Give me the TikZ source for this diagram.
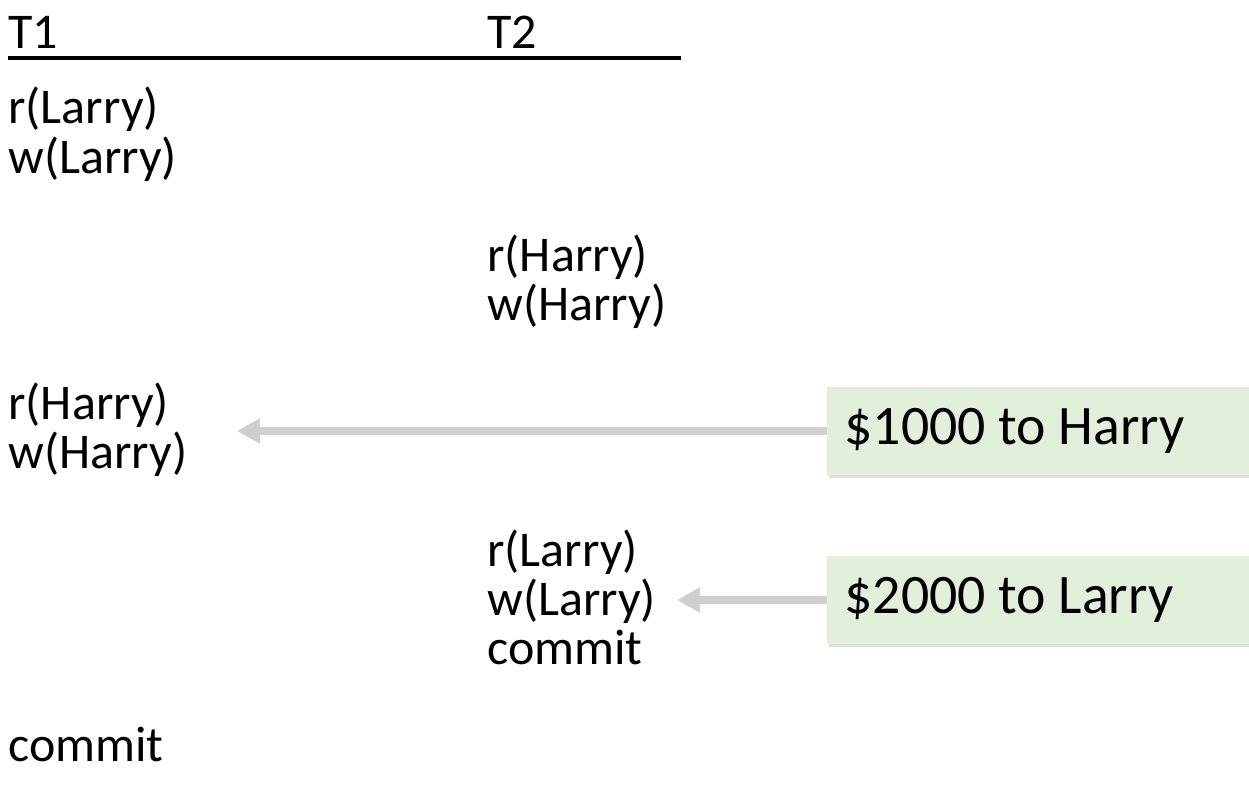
\documentclass[tikz,border=0pt]{standalone}
\usepackage{fontspec}
\setmainfont{Carlito}
\usetikzlibrary{arrows.meta}
\usetikzlibrary{shadows}
\definecolor{notegreen}{RGB}{226,239,218}
\definecolor{arrowgray}{RGB}{208,206,206}

\begin{document}
\begin{tikzpicture}[x=0.52pt,y=-0.52pt,
    op/.style={anchor=base west,inner sep=0pt,font=\fontsize{26}{31}\selectfont},
    note/.style={anchor=west,fill=notegreen,inner xsep=9pt,inner ysep=0pt,
      minimum height=45.8pt,font=\fontsize{29}{35}\selectfont,
      drop shadow={opacity=0.25,shadow xshift=0.6pt,shadow yshift=-1.4pt}},
    flow/.style={arrowgray,line width=4.2pt,-{Triangle[length=12pt,width=12.5pt]}},
    uline/.style={line width=1.6pt}]
  \clip (0,0) rectangle (1249,791);

  % header
  \node[op] (t1) at (8,48) {T1};
  \node[op] (t2) at (487,48) {T2};
  \coordinate (ulend) at (681,58);
  \draw[uline] (t1.base west |- ulend) -- (ulend);

  % schedule
  \node[op] (rL1) at (8,123) {r(Larry)};
  \node[op] (wL1) at (8,173) {w(Larry)};
  \node[op] (rH2) at (487,271) {r(Harry)};
  \node[op] (wH2) at (487,320) {w(Harry)};
  \node[op] (rH1) at (8,419) {r(Harry)};
  \node[op] (wH1) at (8,468) {w(Harry)};
  \node[op] (rL2) at (487,566) {r(Larry)};
  \node[op] (wL2) at (487,615) {w(Larry)};
  \node[op] (c2) at (487,664) {commit};
  \node[op] (c1) at (8,761) {commit};

  % notes
  \node[note] (harry) at (827,431) {\makebox[240pt][l]{\$1000 to Harry}};
  \node[note] (larry) at (827,600) {\makebox[240pt][l]{\$2000 to Larry}};
  \coordinate (hend) at (237,431);
  \coordinate (lend) at (677,600);
  \draw[flow] (harry.west) -- (hend);
  \draw[flow] (larry.west) -- (lend);
\end{tikzpicture}
\end{document}
